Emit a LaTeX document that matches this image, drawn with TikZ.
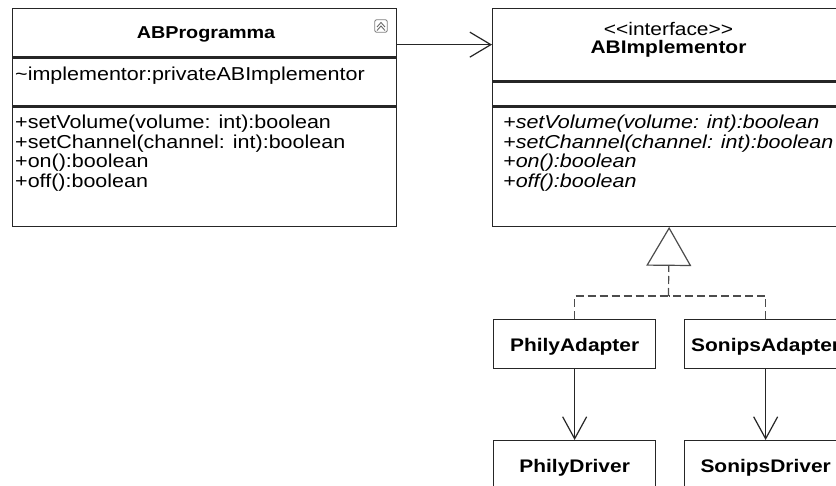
\documentclass[tikz,border=0pt]{standalone}
\usepackage{fontspec}
\setmainfont{Liberation Sans}[FakeStretch=1.15]
\usetikzlibrary{arrows.meta}

\tikzset{
  classbox/.style={draw=black!85,line width=1.3pt,fill=white,inner sep=0pt,anchor=north west},
  member/.style={anchor=base west,inner sep=0pt,font=\fontsize{18.7}{19.7}\selectfont},
  classname/.style={anchor=base,inner sep=0pt,font=\fontsize{18.2}{19.7}\selectfont\bfseries},
  smallclass/.style={classbox,minimum width=162pt,minimum height=49pt,text height=15pt,text depth=0pt,
    font=\fontsize{18.2}{19.7}\selectfont\bfseries},
  assoc/.style={draw=black!85,line width=1.2pt,-{Straight Barb[length=21pt,width=25pt,line width=1.2pt]}},
  realize/.style={draw=black!70,line width=1.2pt,dash pattern=on 8pt off 4pt}
}

\begin{document}
\begin{tikzpicture}[x=1pt,y=-1pt]
            \useasboundingbox (0,0) rectangle (836,486);
            \clip (0,0) rectangle (836,486);
            \fill[white] (0,0) rectangle (836,486);

            % ABProgramma
            \node[classbox,minimum width=384pt,minimum height=48pt] (prog) at (12,8) {};
            \node[classbox,minimum width=384pt,minimum height=48pt] (progattr) at (prog.south west) {};
            \node[classbox,minimum width=384pt,minimum height=119pt] (progops) at (progattr.south west) {};
            \node[classname,font=\fontsize{17.2}{19.7}\selectfont\bfseries] (progname) at (206,39) {ABProgramma};
            \node[draw=black!50,line width=0.9pt,rounded corners=1.5pt,minimum size=12.5pt,inner sep=0pt] (collapse) at (381,26) {};
            \draw[black!60,line width=0.9pt] ([shift={(-4,1)}]collapse.center) -- ([shift={(0,-3.5)}]collapse.center) -- ([shift={(4,1)}]collapse.center);
            \draw[black!60,line width=0.9pt] ([shift={(-4,4.5)}]collapse.center) -- ([shift={(0,0)}]collapse.center) -- ([shift={(4,4.5)}]collapse.center);
            \node[member] (progfield) at (15,81) {\textasciitilde implementor:privateABImplementor};
            \node[member] (progop1) at (15,128.5) {+setVolume(volume: int):boolean};
            \node[member] (progop2) at (15,148.2) {+setChannel(channel: int):boolean};
            \node[member] (progop3) at (15,167.9) {+on():boolean};
            \node[member] (progop4) at (15,187.6) {+off():boolean};

            % ABImplementor
            \node[classbox,minimum width=353pt,minimum height=72pt] (impl) at (492,8) {};
            \node[classbox,minimum width=353pt,minimum height=24pt] (implattr) at (impl.south west) {};
            \node[classbox,minimum width=353pt,minimum height=119pt] (implops) at (implattr.south west) {};
            \node[anchor=base,inner sep=0pt,font=\fontsize{18.2}{19.7}\selectfont] (stereo) at (668.5,36) {<{}<interface>{}>};
            \node[classname] (implname) at (668.5,54) {ABImplementor};
            \node[member,font=\fontsize{18.7}{19.7}\selectfont\itshape] (implop1) at (503,128.5) {+setVolume(volume: int):boolean};
            \node[member,font=\fontsize{18.7}{19.7}\selectfont\itshape] (implop2) at (503,148.2) {+setChannel(channel: int):boolean};
            \node[member,font=\fontsize{18.7}{19.7}\selectfont\itshape] (implop3) at (503,167.9) {+on():boolean};
            \node[member,font=\fontsize{18.7}{19.7}\selectfont\itshape] (implop4) at (503,187.6) {+off():boolean};

            % adapters and drivers
            \node[smallclass] (phad) at (493,319) {PhilyAdapter};
            \node[smallclass] (soad) at (684,319) {SonipsAdapter};
            \node[smallclass] (phdr) at (493,440) {PhilyDriver};
            \node[smallclass] (sodr) at (684,440) {SonipsDriver};

            % connectors
            \draw[assoc] (prog.east |- impl.west) -- (impl.west);
            \coordinate (join) at (668.5,296);
            \draw[realize] (phad.north) |- (join);
            \draw[realize] (soad.north) |- (join);
            \draw[realize,-{Triangle[open,length=39pt,width=45pt,line width=1.2pt]}] (join) -- (implops.south);
            \draw[assoc,-{Straight Barb[length=22pt,width=24pt,line width=1.2pt]}] (phad) -- (phdr);
            \draw[assoc,-{Straight Barb[length=22pt,width=24pt,line width=1.2pt]}] (soad) -- (sodr);
\end{tikzpicture}
\end{document}
